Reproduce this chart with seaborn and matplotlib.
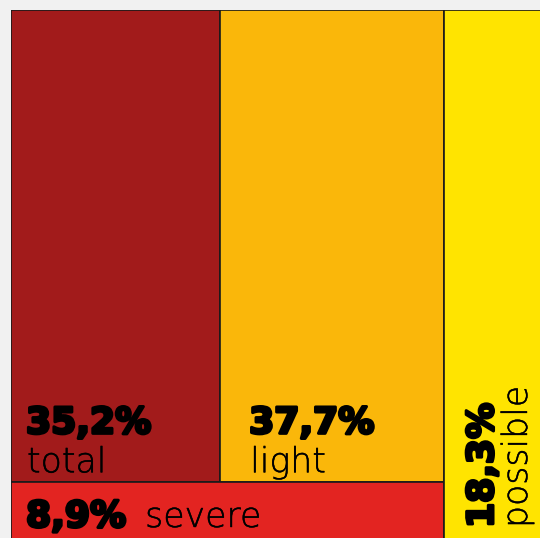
import matplotlib
matplotlib.use("Agg")
import matplotlib.pyplot as plt
import matplotlib.patheffects as pe
import seaborn as sns

# data
labels = ["total", "light", "severe", "possible"]
values = [35.2, 37.7, 8.9, 18.3]
pct_text = ["35,2%", "37,7%", "8,9%", "18,3%"]
colors = ["#A21B1B", "#FAB70A", "#E32421", "#FFE400"]

# nesting of the treemap (indexes into labels), splits alternate x / y
tree = [[[0, 1], 2], 3]

sns.set_theme(style="white")
plt.rcParams["font.family"] = ["DejaVu Sans"]


def weight(node):
    if isinstance(node, int):
        return values[node]
    return sum(weight(n) for n in node)


def layout(node, x, y, w, h, depth, out):
    if isinstance(node, int):
        out[node] = (x, y, w, h)
        return
    tot = weight(node)
    pos = 0
    for child in node:
        frac = weight(child) / tot
        if depth % 2 == 0:
            layout(child, x + pos * w, y, w * frac, h, depth + 1, out)
        else:
            layout(child, x, y + pos * h, w, h * frac, depth + 1, out)
        pos += frac


rects = {}
layout(tree, 0, 0, 100, 100, 0, rects)

fig = plt.figure(figsize=(5.4, 5.38), dpi=100)
fig.patch.set_facecolor("#f1f1f1")
ax = fig.add_axes([11 / 540, -2 / 538, 530 / 540, 530 / 538])
ax.set_xlim(0, 100)
ax.set_ylim(100, 0)
ax.axis("off")

for i in range(len(labels)):
    x, y, w, h = rects[i]
    ax.bar(x, h, width=w, bottom=y, align="edge", color=colors[i],
           edgecolor="#1a1a1a", linewidth=1.2)

# heavy numbers: bold font fattened with a stroke
bold = dict(fontsize=26, fontweight=900, color="black",
            path_effects=[pe.withStroke(linewidth=2.2, foreground="black")])
light = dict(fontsize=25, fontweight=200, color="black",
             path_effects=[pe.withStroke(linewidth=0.3, foreground="black")])

# total / light: number above the label, bottom-left of the box
for i, dx in [(0, 15), (1, 29)]:
    x, y, w, h = rects[i]
    ax.annotate(pct_text[i], (x, y + h), xytext=(dx, 49),
                textcoords="offset pixels", va="baseline", ha="left", **bold)
    ax.annotate(labels[i], (x, y + h), xytext=(dx + 1, 10),
                textcoords="offset pixels", va="baseline", ha="left", **light)

# severe: number and label on one line
x, y, w, h = rects[2]
t = ax.annotate(pct_text[2], (x, y + h), xytext=(15, 13),
                textcoords="offset pixels", va="baseline", ha="left", **bold)
fig.canvas.draw()
bb = t.get_window_extent()
x0 = ax.transData.transform((x, 0))[0]
ax.annotate(labels[2], (x, y + h), xytext=(bb.x1 - x0 + 19, 13),
            textcoords="offset pixels", va="baseline", ha="left", **light)

# possible: rotated text at the bottom-right
x, y, w, h = rects[3]
ax.annotate(pct_text[3], (x + w, y + h), xytext=(-48, 12),
            textcoords="offset pixels", rotation=90, rotation_mode="anchor",
            va="baseline", ha="left", **bold)
ax.annotate(labels[3], (x + w, y + h), xytext=(-14, 12),
            textcoords="offset pixels", rotation=90, rotation_mode="anchor",
            va="baseline", ha="left", **light)

fig.savefig("out.png", dpi=100, facecolor=fig.get_facecolor())
